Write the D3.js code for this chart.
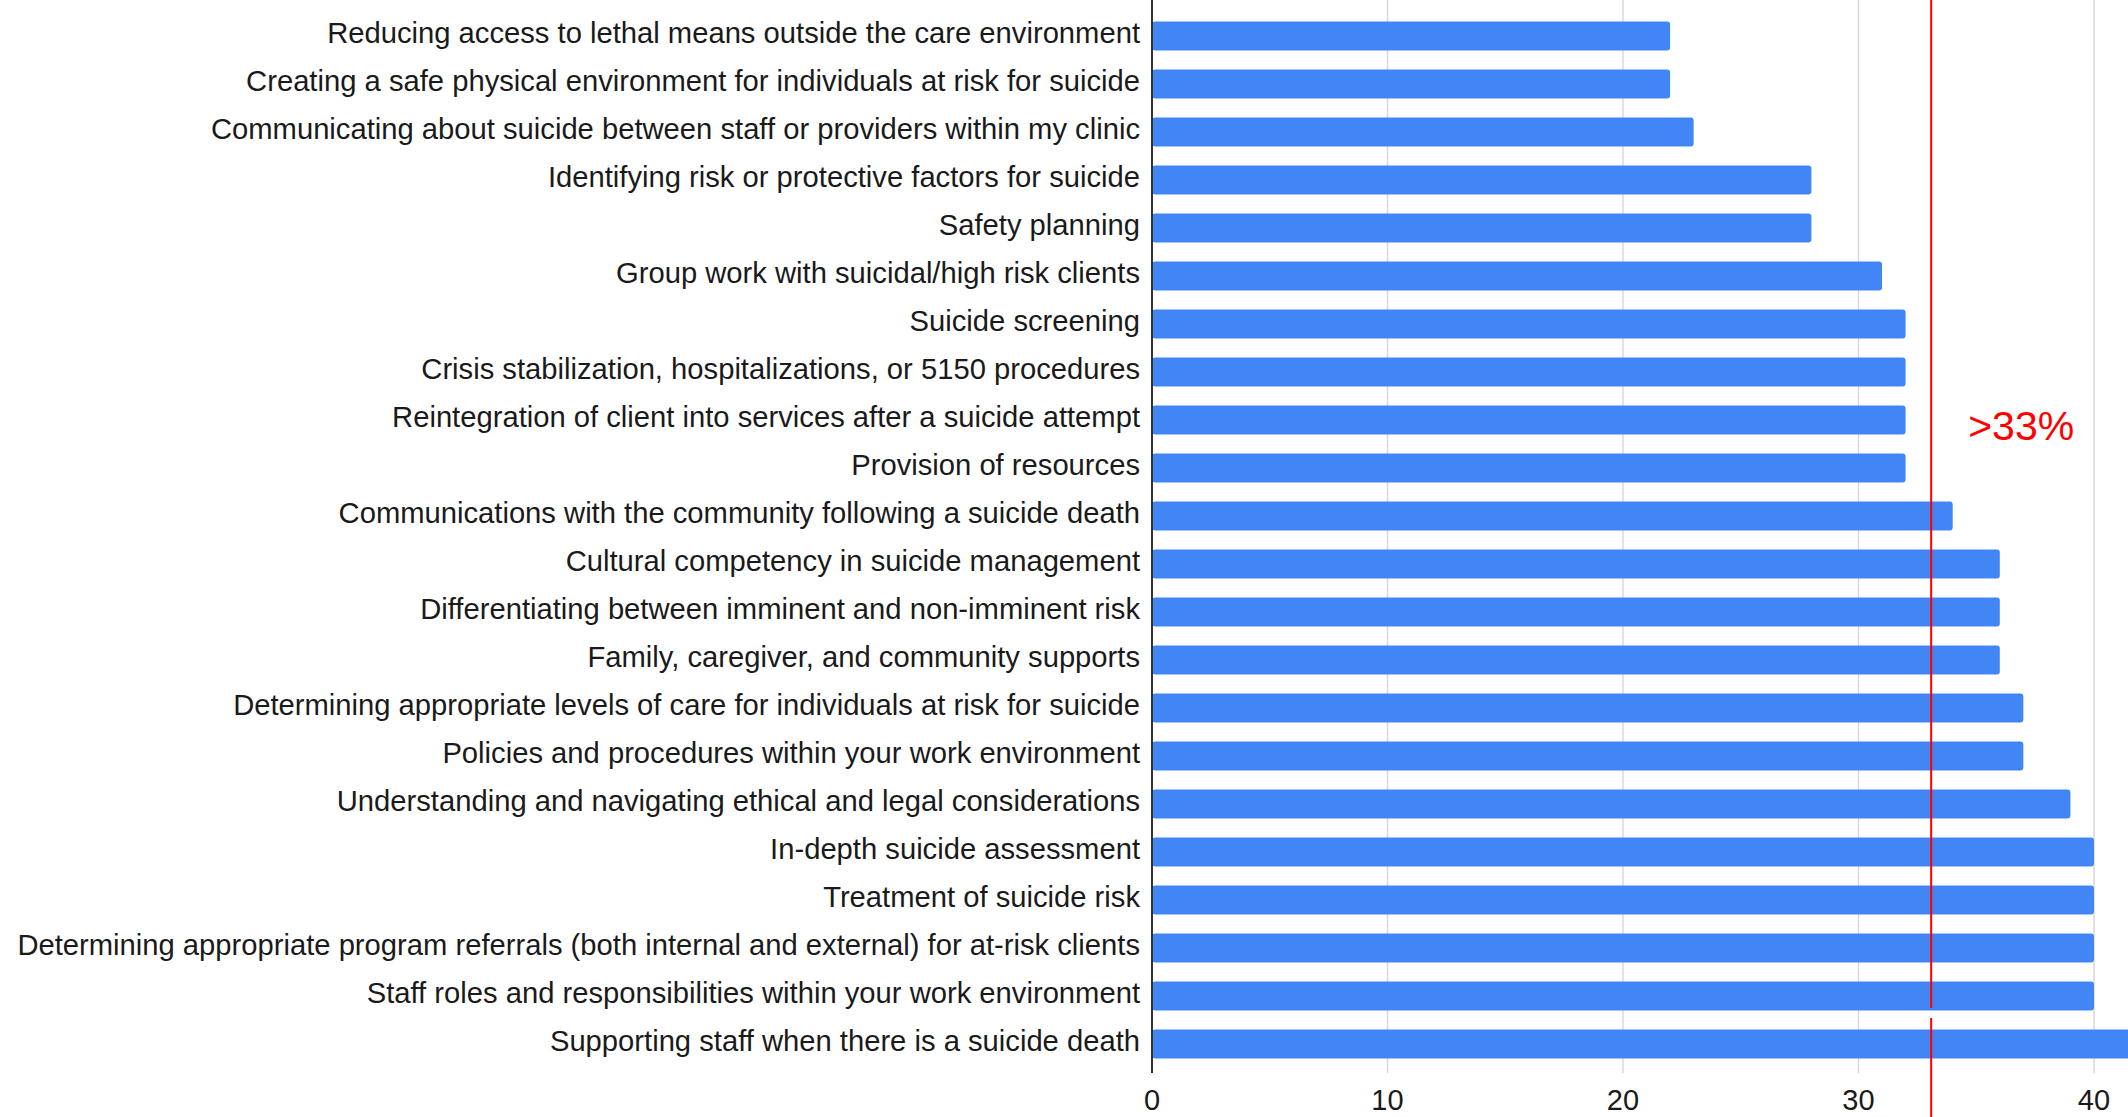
<!DOCTYPE html>
<html>
<head>
<meta charset="utf-8">
<script src="https://cdn.jsdelivr.net/npm/d3@7"></script>
<style>
  html, body { margin: 0; padding: 0; background: #fff; }
  svg { display: block; font-family: "Liberation Sans", Arial, sans-serif; }
</style>
</head>
<body>
<svg id="chart" width="2128" height="1117"></svg>
<script>
// categories, top to bottom
var topics = [
    "Reducing access to lethal means outside the care environment",
    "Creating a safe physical environment for individuals at risk for suicide",
    "Communicating about suicide between staff or providers within my clinic",
    "Identifying risk or protective factors for suicide",
    "Safety planning",
    "Group work with suicidal/high risk clients",
    "Suicide screening",
    "Crisis stabilization, hospitalizations, or 5150 procedures",
    "Reintegration of client into services after a suicide attempt",
    "Provision of resources",
    "Communications with the community following a suicide death",
    "Cultural competency in suicide management",
    "Differentiating between imminent and non-imminent risk",
    "Family, caregiver, and community supports",
    "Determining appropriate levels of care for individuals at risk for suicide",
    "Policies and procedures within your work environment",
    "Understanding and navigating ethical and legal considerations",
    "In-depth suicide assessment",
    "Treatment of suicide risk",
    "Determining appropriate program referrals (both internal and external) for at-risk clients",
    "Staff roles and responsibilities within your work environment",
    "Supporting staff when there is a suicide death"
];

// responses per topic (last bar runs off the right edge)
var counts = [22, 22, 23, 28, 28, 31, 32, 32, 32, 32, 34, 36, 36, 36, 37, 37, 39, 40, 40, 40, 40, 42];

var xTicks = [0, 10, 20, 30, 40];

// the 33% cutoff line
var threshold = 33;
var thresholdLabel = ">33%";

var svg = d3.select("#chart");

var x = d3.scaleLinear()
    .domain([0, 40])
    .range([1152, 2094]);

var y = d3.scaleBand()
    .domain(topics)
    .range([12, 1068])
    .paddingInner(0.4)
    .paddingOuter(0.2);

// gridlines
svg.append("g")
    .selectAll("line")
    .data(xTicks.slice(1))
    .enter()
    .append("line")
    .attr("x1", function(d) { return x(d); })
    .attr("x2", function(d) { return x(d); })
    .attr("y1", 0)
    .attr("y2", 1073)
    .style("stroke", "#d9d9d9")
    .style("stroke-width", 1.5);

// bars
svg.append("g")
    .selectAll("rect")
    .data(counts)
    .enter()
    .append("rect")
    .attr("x", x(0))
    .attr("y", function(d, i) { return y(topics[i]); })
    .attr("width", function(d) { return x(d) - x(0); })
    .attr("height", y.bandwidth())
    .attr("rx", 3)
    .style("fill", "#4285f4");

// baseline
svg.append("line")
    .attr("x1", x(0))
    .attr("x2", x(0))
    .attr("y1", 0)
    .attr("y2", 1073)
    .style("stroke", "#333")
    .style("stroke-width", 2);

// category labels
svg.append("g")
    .selectAll("text")
    .data(topics)
    .enter()
    .append("text")
    .attr("x", x(0) - 12)
    .attr("y", function(d) { return y(d) + y.bandwidth() / 2 - 3; })
    .attr("dy", "0.35em")
    .attr("text-anchor", "end")
    .style("font-size", "29.2px")
    .style("fill", "#1a1a1a")
    .text(function(d) { return d; });

// x tick labels
svg.append("g")
    .selectAll("text")
    .data(xTicks)
    .enter()
    .append("text")
    .attr("x", function(d) { return x(d); })
    .attr("y", 1100)
    .attr("dy", "0.35em")
    .attr("text-anchor", "middle")
    .style("font-size", "29px")
    .style("fill", "#1a1a1a")
    .text(function(d) { return d; });

// threshold line (drawn in two pieces, small break above the last bar)
var thresholdX = x(threshold) + 2;
svg.append("line")
    .attr("x1", thresholdX)
    .attr("x2", thresholdX)
    .attr("y1", 0)
    .attr("y2", 1008)
    .style("stroke", "#ff0000")
    .style("stroke-width", 2);

svg.append("line")
    .attr("x1", thresholdX)
    .attr("x2", thresholdX)
    .attr("y1", 1018)
    .attr("y2", 1117)
    .style("stroke", "#ff0000")
    .style("stroke-width", 2);

svg.append("text")
    .attr("x", thresholdX + 37)
    .attr("y", 440)
    .style("font-size", "41px")
    .style("fill", "#ff0000")
    .text(thresholdLabel);
</script>
</body>
</html>
